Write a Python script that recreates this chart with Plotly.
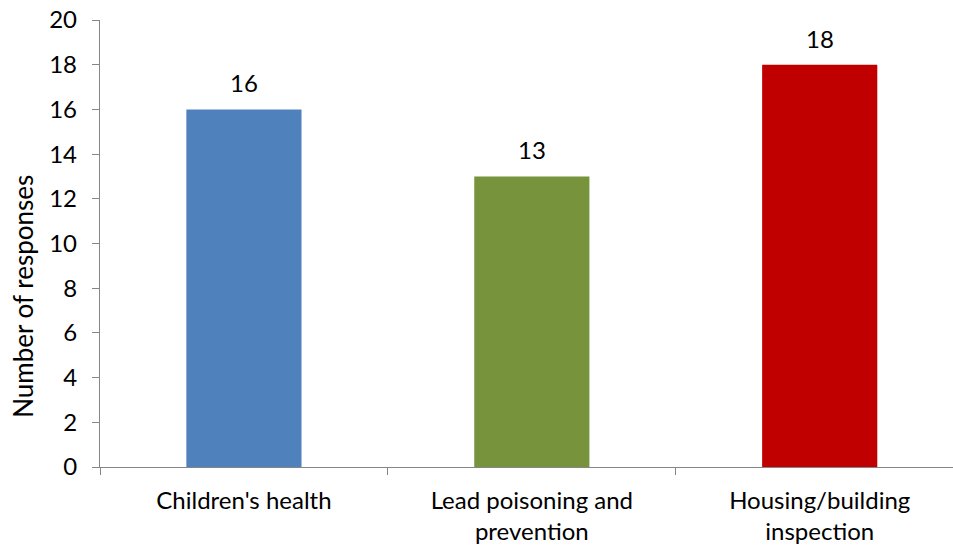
import plotly.graph_objects as go

categories = ["Children's health", "Lead poisoning and<br>prevention", "Housing/building<br>inspection"]
responses = [16, 13, 18]
bar_colors = ["#4F81BD", "#77933C", "#C00000"]
y_ticks = [0, 2, 4, 6, 8, 10, 12, 14, 16, 18, 20]
y_title = "Number of responses"

FONT = "Lato"
AXIS_GREY = "#868686"
TEXT_SIZE = 24

fig = go.Figure(
    go.Bar(
        x=categories,
        y=responses,
        marker=dict(color=bar_colors, line=dict(width=0)),
        width=0.4,
        hoverinfo="x+y",
    )
)

# value labels above each bar
for cat, val in zip(categories, responses):
    fig.add_annotation(
        x=cat, y=val, text=str(val), showarrow=False,
        yanchor="bottom", yshift=10,
        font=dict(family=FONT, size=TEXT_SIZE, color="#000000"),
    )

# rotated y-axis title, sitting a little below the middle of the axis
fig.add_annotation(
    xref="paper", yref="paper", x=-0.0903, y=0.383,
    text=y_title, textangle=-90, showarrow=False,
    xanchor="center", yanchor="middle",
    font=dict(family=FONT, size=26, color="#000000"),
)

fig.update_layout(
    width=953, height=546,
    margin=dict(l=100, r=0, t=20, b=79),
    paper_bgcolor="white", plot_bgcolor="white",
    showlegend=False,
    font=dict(family=FONT, size=TEXT_SIZE, color="#000000"),
    xaxis=dict(
        type="category",
        range=[-0.5, 2.463],
        tickson="boundaries",
        ticks="outside", ticklen=7, tickwidth=1.3, tickcolor=AXIS_GREY,
        showline=True, linecolor=AXIS_GREY, linewidth=1.3,
        showgrid=False, zeroline=False,
        tickfont=dict(family=FONT, size=TEXT_SIZE),
        ticklabelstandoff=12,
    ),
    yaxis=dict(
        range=[0, 20],
        tickmode="array", tickvals=y_ticks,
        ticks="outside", ticklen=7, tickwidth=1.3, tickcolor=AXIS_GREY,
        showline=True, linecolor=AXIS_GREY, linewidth=1.3,
        showgrid=False, zeroline=False,
        tickfont=dict(family=FONT, size=TEXT_SIZE),
        ticklabelstandoff=10,
    ),
)

fig.write_html("out.html")
